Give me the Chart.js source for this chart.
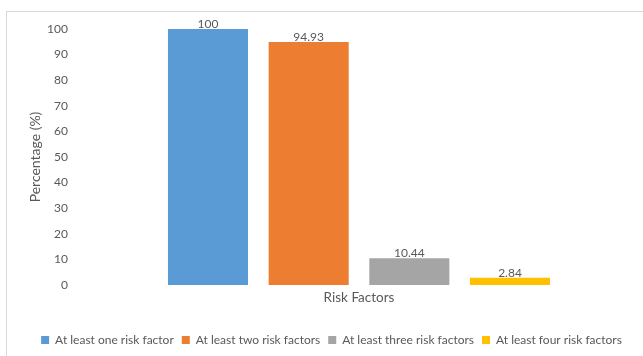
<!DOCTYPE html>
<html>
<head>
<meta charset="utf-8">
<script src="https://cdn.jsdelivr.net/npm/chart.js@4/dist/chart.umd.min.js"></script>
<style>
  html, body { margin: 0; padding: 0; background: #ffffff; }
  #wrap { position: relative; width: 643px; height: 356px; overflow: hidden; }
  #frame { position: absolute; left: 6px; top: 11px; width: 660px; height: 360px;
           border-left: 1px solid #d9d9d9; border-top: 1px solid #d9d9d9; box-sizing: border-box; }
  #c { position: absolute; left: 0; top: 0; }
</style>
</head>
<body>
<div id="wrap">
  <div id="frame"></div>
  <canvas id="c" width="643" height="356"></canvas>
</div>
<script>
const categories = [''];
const seriesNames = ['At least one risk factor', 'At least two risk factors', 'At least three risk factors', 'At least four risk factors'];
const seriesValues = [[100], [94.93], [10.44], [2.84]];
const valueLabels = ['100', '94.93', '10.44', '2.84'];
const seriesColors = ['#5B9BD5', '#ED7D31', '#A5A5A5', '#FFC000'];
const yTicks = [0, 10, 20, 30, 40, 50, 60, 70, 80, 90, 100];
const xTitle = 'Risk Factors';
const yTitle = 'Percentage (%)';

const FONT = 'Lato, "Open Sans", sans-serif';
const TXT = '#595959';

const valueLabelPlugin = {
  id: 'valueLabels',
  afterDatasetsDraw(chart) {
    const ctx = chart.ctx;
    ctx.save();
    ctx.font = '12px ' + FONT;
    ctx.fillStyle = TXT;
    ctx.textAlign = 'center';
    ctx.textBaseline = 'alphabetic';
    chart.data.datasets.forEach((ds, i) => {
      const meta = chart.getDatasetMeta(i);
      meta.data.forEach((el) => {
        ctx.fillText(valueLabels[i], el.x, el.y - 1);
      });
    });
    ctx.restore();
  }
};

new Chart(document.getElementById('c'), {
  type: 'bar',
  data: {
    labels: categories,
    datasets: seriesNames.map((n, i) => ({
      label: n,
      data: seriesValues[i],
      backgroundColor: seriesColors[i],
      borderWidth: 0,
      barPercentage: 0.795,
      categoryPercentage: 0.709
    }))
  },
  options: {
    responsive: false,
    animation: false,
    devicePixelRatio: 1,
    layout: { padding: { left: 20, right: 0, top: 29, bottom: 0 } },
    plugins: {
      tooltip: { enabled: false },
      legend: {
        position: 'bottom',
        labels: {
          boxWidth: 8, boxHeight: 8, padding: 8,
          color: TXT,
          font: { family: FONT, size: 12 }
        }
      }
    },
    scales: {
      x: {
        grid: { display: false, drawTicks: false },
        border: { display: false },
        ticks: { display: false },
        title: { display: true, text: xTitle, color: TXT, font: { family: FONT, size: 13.5 }, padding: { top: 0, bottom: 20 } },
        afterFit(scale) { scale.height = 41; }
      },
      y: {
        min: 0, max: 100,
        grid: { display: false, drawTicks: false },
        border: { display: false },
        afterBuildTicks(scale) { scale.ticks = yTicks.map(v => ({ value: v })); },
        ticks: { color: TXT, font: { family: FONT, size: 12 }, padding: 7 },
        title: { display: true, text: yTitle, color: TXT, font: { family: FONT, size: 14 }, padding: { top: 7, bottom: 0 } },
        afterFit(scale) { scale.width = 55; }
      }
    }
  },
  plugins: [valueLabelPlugin]
});
</script>
</body>
</html>
